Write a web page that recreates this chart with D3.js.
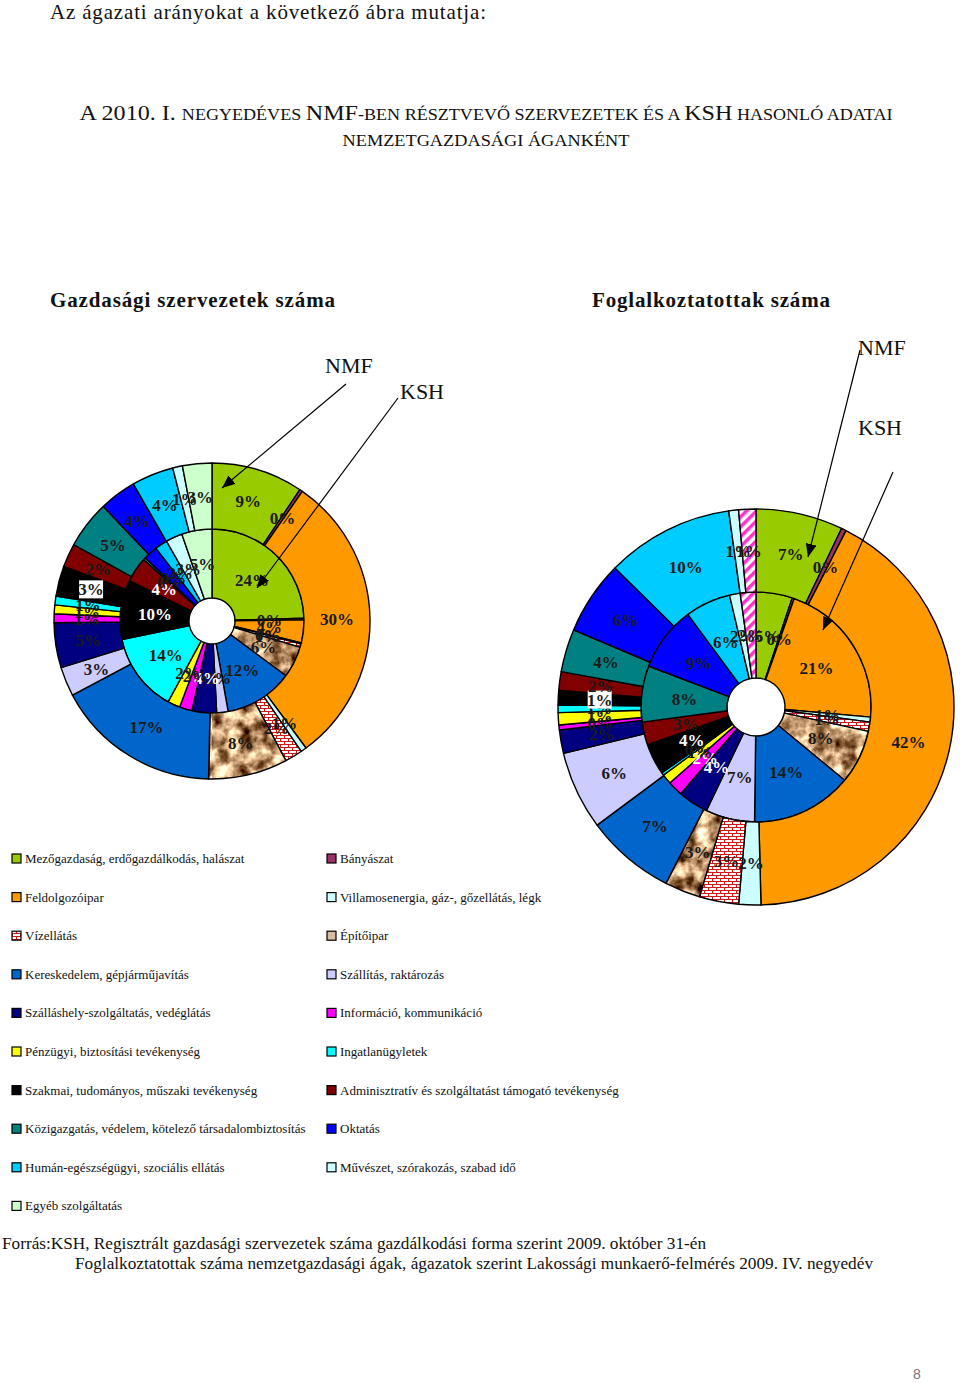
<!DOCTYPE html>
<html><head><meta charset="utf-8">
<script src="https://cdn.jsdelivr.net/npm/d3@7"></script>
<style>body{margin:0;background:#fff} svg{display:block}</style>
</head><body>
<script>
// ---------- DATA ----------
const categories = [
  "Mezőgazdaság, erdőgazdálkodás, halászat", "Bányászat",
  "Feldolgozóipar", "Villamosenergia, gáz-, gőzellátás, légk",
  "Vízellátás", "Építőipar",
  "Kereskedelem, gépjárműjavítás", "Szállítás, raktározás",
  "Szálláshely-szolgáltatás, vedéglátás", "Információ, kommunikáció",
  "Pénzügyi, biztosítási tevékenység", "Ingatlanügyletek",
  "Szakmai, tudományos, műszaki tevékenység", "Adminisztratív és szolgáltatást támogató tevékenység",
  "Közigazgatás, védelem, kötelező társadalombiztosítás", "Oktatás",
  "Humán-egészségügyi, szociális ellátás", "Művészet, szórakozás, szabad idő",
  "Egyéb szolgáltatás"
];
// Gazdasági szervezetek száma (%)
const szervNMF = [9.4, 0.3, 30.2, 0.6, 1.8, 8.1, 16.9, 3.0, 4.6, 0.9, 0.9, 0.9, 3.1, 2.4, 4.9, 3.8, 4.3, 1.0, 3.0];
const szervKSH = [24.4, 0.3, 4, 0.2, 0.6, 5.5, 12, 2, 4.3, 2.2, 2.2, 13.8, 10.4, 4.4, 0.4, 2.5, 2.2, 2.9, 5.3];
// Foglalkoztatottak száma (%)
const foglNMF = [7.1, 0.4, 42, 1.8, 3.2, 2.9, 7.3, 6.4, 1.9, 0.4, 1.0, 0.6, 1.2, 1.5, 3.5, 6.0, 10.4, 0.8, 1.4];
const foglKSH = [5.1, 0.3, 21, 0.7, 1.3, 7.6, 14.2, 6.9, 4.3, 2.1, 1.4, 0.4, 4.4, 3.2, 7.9, 9.1, 6.4, 1.5, 2.2];

const topText = "Az ágazati arányokat a következő ábra mutatja:";
const chartTitles = ["Gazdasági szervezetek száma", "Foglalkoztatottak száma"];
const sourceLines = [
  "Forrás:KSH, Regisztrált gazdasági szervezetek száma gazdálkodási forma szerint 2009. október 31-én",
  "Foglalkoztatottak száma nemzetgazdasági ágak, ágazatok szerint Lakossági munkaerő-felmérés 2009. IV. negyedév"
];

// ---------- STYLE ----------
const colors = ["#99CC00","#993366","#FF9900","#CCFFFF","url(#brick)","url(#tex)","#0066CC","#CCCCFF",
  "#000080","#FF00FF","#FFFF00","#00FFFF","#000000","#800000","#008080","#0000FF","#00CCFF","#CCFFFF","#CCFFCC"];
const legendColors = colors.slice(); legendColors[5] = "#D9BCA0";
const serif = "'Liberation Serif','Times New Roman',serif";

const svg = d3.select("body").append("svg").attr("width", 960).attr("height", 1382);
const defs = svg.append("defs");

// brick pattern
const brick = defs.append("pattern").attr("id","brick").attr("patternUnits","userSpaceOnUse")
  .attr("width",8).attr("height",6);
brick.append("rect").attr("width",8).attr("height",6).attr("fill","#fff");
brick.append("path").attr("d","M0,0.5H8M0,3.5H8M0.5,0V3.5M4.5,3.5V6")
  .attr("stroke","#D01818").attr("stroke-width",1).attr("fill","none");
// stone texture (noise taken from the alpha channel)
const f = defs.append("filter").attr("id","turb").attr("x",0).attr("y",0).attr("width","100%").attr("height","100%")
  .attr("color-interpolation-filters","sRGB");
f.append("feTurbulence").attr("type","fractalNoise").attr("baseFrequency",0.07).attr("numOctaves",4).attr("seed",7);
f.append("feColorMatrix").attr("type","matrix")
  .attr("values","0 0 0 1.9 -0.2  0 0 0 1.9 -0.36  0 0 0 1.8 -0.47  0 0 0 0 1");
const tex = defs.append("pattern").attr("id","tex").attr("patternUnits","userSpaceOnUse")
  .attr("width",960).attr("height",1382);
tex.append("rect").attr("width",960).attr("height",1382).attr("filter","url(#turb)");
// pink hatch
const hatch = defs.append("pattern").attr("id","hatch").attr("patternUnits","userSpaceOnUse")
  .attr("width",7).attr("height",7).attr("patternTransform","rotate(45)");
hatch.append("rect").attr("width",7).attr("height",7).attr("fill","#fff");
hatch.append("rect").attr("width",3.5).attr("height",7).attr("fill","#FF33CC");
// arrow
defs.append("marker").attr("id","arr").attr("viewBox","0 0 12 10").attr("refX",12).attr("refY",5)
  .attr("markerWidth",13).attr("markerHeight",11).attr("markerUnits","userSpaceOnUse").attr("orient","auto")
  .append("path").attr("d","M0,0L12,5L0,10z").attr("fill","#000");

// ---------- TEXTS ----------
svg.append("text").attr("x",50).attr("y",19).attr("font-family",serif).attr("font-size",21)
  .attr("textLength",436).attr("fill","#111").text(topText);

function smallCaps(y, parts, len) {
  const t = svg.append("text").attr("x",486).attr("y",y).attr("text-anchor","middle")
    .attr("font-family",serif).attr("fill","#111").attr("textLength",len).attr("lengthAdjust","spacingAndGlyphs");
  parts.forEach(p => t.append("tspan").attr("font-size", p[1] ? 22 : 16.5).text(p[0]));
}
smallCaps(120, [["A 2010. I. ",1],["NEGYEDÉVES ",0],["NMF",1],["-BEN RÉSZTVEVŐ SZERVEZETEK ÉS A ",0],["KSH",1],[" HASONLÓ ADATAI",0]], 813);
smallCaps(146, [["NEMZETGAZDASÁGI ÁGANKÉNT",0]], 287);

[[50,335],[592,830]].forEach((p,i)=>{
  svg.append("text").attr("x",p[0]).attr("y",307).attr("font-family",serif).attr("font-weight","bold")
    .attr("font-size",21).attr("textLength",p[1]-p[0]).attr("fill","#111").text(chartTitles[i]);
});

// ---------- DONUTS ----------
const pie = d3.pie().sort(null).value(d => d);
function donut(cx, cy, h, m, R, innerVals, outerVals, lastFill, whiteInner) {
  const g = svg.append("g").attr("transform", `translate(${cx},${cy})`);
  const fillOf = i => (i === 18 && lastFill) ? lastFill : colors[i];
  [[innerVals, h, m, true], [outerVals, m, R, false]].forEach(([vals, r0, r1, isInner]) => {
    const arc = d3.arc().innerRadius(r0).outerRadius(r1);
    const arcs = pie(vals);
    g.selectAll(null).data(arcs).enter().append("path")
      .attr("d", arc).attr("fill", (d,i) => fillOf(i))
      .attr("stroke", "#000").attr("stroke-width", 1.4).attr("stroke-linejoin","round");
    const lab = g.selectAll(null).data(arcs).enter().append("g")
      .attr("transform", d => `translate(${arc.centroid(d)})`);
    lab.each(function(d, i) {
      const s = d3.select(this);
      const txt = Math.round(d.value) + "%";
      if (!isInner && i === 12) {
        s.append("rect").attr("x",-12).attr("y",-9).attr("width",24).attr("height",18).attr("fill","#fff");
      }
      s.append("text").attr("text-anchor","middle").attr("dy","0.35em")
        .attr("font-family",serif).attr("font-weight","bold").attr("font-size",17)
        .attr("fill", isInner && whiteInner.has(i) ? "#fff" : "#1a1a1a").text(txt);
    });
  });
}
donut(212, 621, 23, 92, 158, szervKSH, szervNMF, null, new Set([8, 12, 13]));
donut(756, 707, 29, 115, 198, foglKSH, foglNMF, "url(#hatch)", new Set([8, 9, 12]));

// ---------- NMF / KSH callouts ----------
const callouts = [
  {t:"NMF", x:325, y:373, l:[346,384,222,488]},
  {t:"KSH", x:400, y:399, l:[398,398,257,588]},
  {t:"NMF", x:858, y:355, l:[860,350,808,557]},
  {t:"KSH", x:858, y:435, l:[893,472,823,630]}
];
callouts.forEach(c => {
  svg.append("text").attr("x",c.x).attr("y",c.y).attr("font-family",serif).attr("font-size",22)
    .attr("fill","#111").text(c.t);
  svg.append("line").attr("x1",c.l[0]).attr("y1",c.l[1]).attr("x2",c.l[2]).attr("y2",c.l[3])
    .attr("stroke","#000").attr("stroke-width",1.2).attr("marker-end","url(#arr)");
});

// ---------- LEGEND ----------
const lg = svg.append("g");
categories.forEach((c, i) => {
  const col = i % 2, row = Math.floor(i / 2);
  const x = col ? 327 : 12, y = 859 + row * 38.6;
  lg.append("rect").attr("x",x).attr("y",y-5).attr("width",9).attr("height",9)
    .attr("fill",legendColors[i]).attr("stroke","#000").attr("stroke-width",1.2);
  lg.append("text").attr("x",x+13).attr("y",y+4).attr("font-family",serif).attr("font-size",13)
    .attr("fill","#111").text(c);
});

// ---------- SOURCE ----------
svg.append("text").attr("x",2).attr("y",1249).attr("font-family",serif).attr("font-size",16)
  .attr("textLength",704).attr("lengthAdjust","spacingAndGlyphs").attr("fill","#111").text(sourceLines[0]);
svg.append("text").attr("x",75).attr("y",1269).attr("font-family",serif).attr("font-size",16)
  .attr("textLength",798).attr("lengthAdjust","spacingAndGlyphs").attr("fill","#111").text(sourceLines[1]);
svg.append("text").attr("x",913).attr("y",1379).attr("font-family","'Liberation Sans',Arial,sans-serif")
  .attr("font-size",14).attr("fill","#777").text("8");
</script>
</body></html>
